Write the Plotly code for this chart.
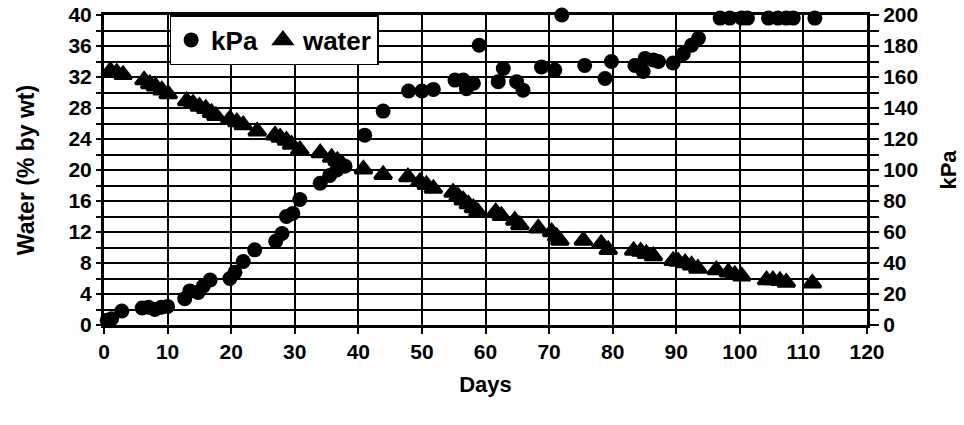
import plotly.graph_objects as go

# kPa series (right axis)
kpa_days = [0.5, 1.2, 2.8, 6.0, 7.0, 8.0, 9.0, 10.0, 12.7, 13.5, 14.8, 15.6, 16.7,
            19.8, 20.6, 21.9, 23.7, 27.0, 28.0, 28.7, 29.7, 30.8, 34.0, 35.5, 36.6,
            37.9, 41.0, 43.9, 47.9, 50.0, 51.8, 55.2, 56.5, 57.0, 58.1, 59.0, 62.0,
            62.8, 64.9, 65.9, 68.8, 70.9, 72.0, 75.6, 78.8, 79.8, 83.5, 84.8, 85.1,
            86.4, 87.2, 89.5, 91.1, 92.4, 93.5, 96.9, 98.4, 100.3, 101.2, 104.5,
            106.0, 107.3, 108.4, 111.8]
kpa_vals = [3, 4, 9, 11, 11.5, 10, 11.5, 12, 17, 22, 21, 25, 29,
            30, 34, 41, 48.5, 54, 59, 70, 72, 81, 91.5, 96.5, 100,
            102.5, 122.5, 138, 151, 151, 152, 158, 158, 152.5, 156, 180.5, 157,
            165.5, 157, 151.5, 166.5, 164.5, 200, 167.5, 159, 170, 167.5, 163.5, 172,
            171, 170, 169, 175, 180.5, 185, 198, 198, 198, 198, 198,
            198, 198, 198, 198]

# water series (left axis)
water_days = [1.0, 2.0, 3.0, 6.3, 7.2, 8.1, 9.1, 10.1, 13.0, 14.0, 15.0, 16.0, 16.9,
              17.6, 19.8, 20.9, 21.9, 24.1, 26.9, 27.7, 28.7, 29.5, 30.8, 34.0, 35.8,
              36.7, 37.5, 40.8, 43.9, 47.8, 49.7, 50.7, 51.8, 54.9, 55.7, 56.5, 57.3,
              58.1, 58.8, 61.6, 62.5, 64.6, 65.4, 68.3, 70.4, 71.2, 71.7, 75.4, 78.2,
              79.3, 83.3, 84.4, 85.3, 86.4, 89.5, 90.3, 91.4, 92.4, 93.4, 96.3, 98.2,
              99.2, 100.3, 104.2, 105.2, 106.3, 107.3, 111.4]
water_vals = [32.8, 32.6, 32.3, 31.6, 31.1, 30.8, 30.3, 29.8, 28.9, 28.6, 28.2, 27.9, 27.4,
              27.0, 26.6, 26.2, 25.8, 25.0, 24.5, 24.2, 23.8, 23.3, 22.6, 22.2, 21.6,
              21.2, 20.7, 20.1, 19.4, 19.1, 18.5, 18.1, 17.6, 17.1, 16.6, 16.1, 15.6,
              15.1, 14.6, 14.6, 14.1, 13.5, 12.9, 12.5, 12.0, 11.4, 10.9, 10.9, 10.5,
              9.7, 9.6, 9.5, 9.2, 8.9, 8.3, 8.2, 8.0, 7.7, 7.3, 7.1, 6.8,
              6.5, 6.3, 5.8, 5.8, 5.7, 5.5, 5.4]

x_ticks = list(range(0, 121, 10))
water_ticks = list(range(0, 41, 2))
water_labels = [str(v) if v % 4 == 0 else "" for v in water_ticks]
kpa_ticks = list(range(0, 201, 10))
kpa_labels = [str(v) if v % 20 == 0 else "" for v in kpa_ticks]

FONT = "Liberation Sans, Arial"

fig = go.Figure()
fig.add_trace(go.Scatter(
    x=kpa_days, y=kpa_vals, name="<b>kPa</b>", mode="markers", yaxis="y2",
    marker=dict(symbol="circle", size=15, color="black"), cliponaxis=False))
fig.add_trace(go.Scatter(
    x=water_days, y=water_vals, name="<b>water</b>", mode="markers",
    marker=dict(symbol="triangle-up", size=15, color="black",
                line=dict(color="black", width=3)), cliponaxis=False))

fig.update_layout(
    width=964, height=425,
    margin=dict(l=104, r=97, t=15, b=100),
    paper_bgcolor="white", plot_bgcolor="white",
    font=dict(family=FONT, color="black", size=21),
    showlegend=True,
    legend=dict(orientation="h", x=0.086, y=1.0, xanchor="left", yanchor="top",
                bgcolor="white", bordercolor="black", borderwidth=1.5,
                font=dict(size=26, family=FONT), itemwidth=30, traceorder="normal"),
    xaxis=dict(range=[0, 120], tickvals=x_ticks, ticktext=[f"<b>{v}</b>" for v in x_ticks],
               showgrid=True, gridcolor="black", gridwidth=1.5,
               showline=True, linecolor="black", linewidth=3, mirror=True,
               ticks="outside", ticklen=6, tickwidth=1.5, tickcolor="black",
               zeroline=False, automargin=False,
               title=dict(text="<b>Days</b>", font=dict(size=22, family=FONT), standoff=15)),
    yaxis=dict(range=[0, 40], tickvals=water_ticks,
               ticktext=[f"<b>{t}</b>" if t else "" for t in water_labels],
               showgrid=True, gridcolor="black", gridwidth=1.5,
               showline=True, linecolor="black", linewidth=3,
               ticks="outside", ticklen=5, tickwidth=1.5, tickcolor="black",
               zeroline=False, automargin=False,
               title=dict(text="<b>Water (% by wt)</b>", font=dict(size=23, family=FONT), standoff=28)),
    yaxis2=dict(range=[0, 200], overlaying="y", side="right", tickvals=kpa_ticks,
                ticktext=[f"<b>{t}</b>" if t else "" for t in kpa_labels],
                showgrid=False, showline=True, linecolor="black", linewidth=3,
                ticks="outside", ticklen=9, tickwidth=1.5, tickcolor="black",
                zeroline=False, automargin=False,
                title=dict(text="<b>kPa</b>", font=dict(size=22, family=FONT), standoff=24)),
)

fig.write_html("out.html", config={"displayModeBar": False},
               post_script="document.body.style.margin='0';")
